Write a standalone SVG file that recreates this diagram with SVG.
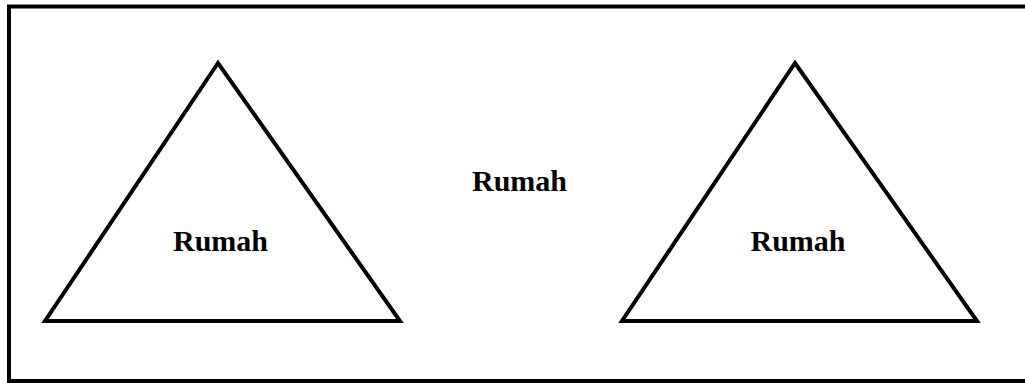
<svg xmlns="http://www.w3.org/2000/svg" width="1025" height="383" viewBox="0 0 1025 383">
<style>
.shape{fill:none;stroke:#000;stroke-width:4;stroke-linejoin:miter}
.lbl{font-family:"Liberation Serif",serif;font-weight:bold;font-size:30px;fill:#000;text-anchor:middle}
</style>
<rect width="1025" height="383" fill="#fff"/>
<g id="frame"><rect class="shape" x="9" y="6.5" width="1030" height="374.5"/></g>
<g id="title"><text class="lbl" x="519.5" y="191">Rumah</text></g>
<g id="house-left"><polygon class="shape" points="218,63 45,321 400,321"/><text class="lbl" x="220.5" y="251">Rumah</text></g>
<g id="house-right"><polygon class="shape" points="795,63 622,321 977,321"/><text class="lbl" x="798" y="251">Rumah</text></g>
<g id="connectors"></g>
</svg>
